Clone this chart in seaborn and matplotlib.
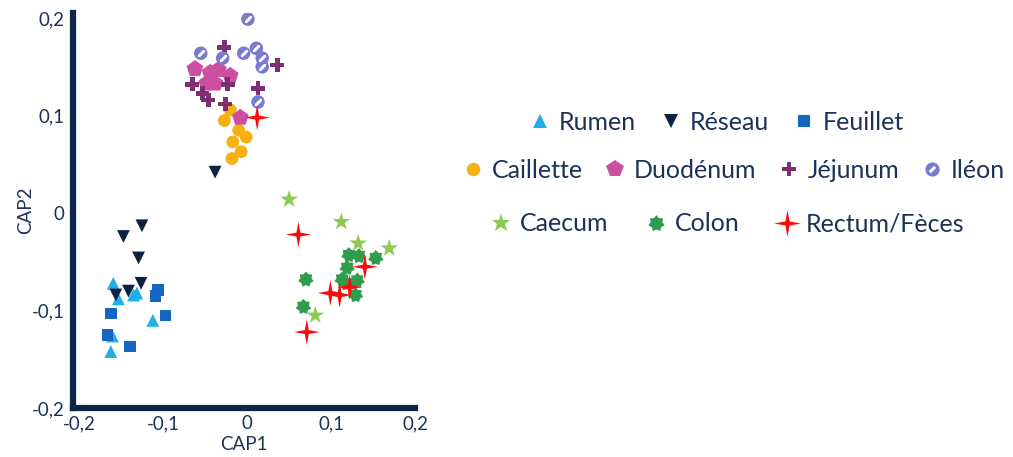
import numpy as np
import pandas as pd
import matplotlib
matplotlib.use("Agg")
import matplotlib.pyplot as plt
import seaborn as sns
from matplotlib.path import Path
from matplotlib.lines import Line2D
from matplotlib.ticker import FuncFormatter

# CAP scores, one pair of lists per tissue
rumen_x = [-0.159, -0.153, -0.135, -0.131, -0.112, -0.160, -0.162]
rumen_y = [-0.072, -0.088, -0.084, -0.082, -0.110, -0.126, -0.142]

reseau_x = [-0.125, -0.147, -0.129, -0.126, -0.156, -0.141, -0.038]
reseau_y = [-0.013, -0.024, -0.046, -0.072, -0.084, -0.080, 0.042]

feuillet_x = [-0.106, -0.109, -0.162, -0.097, -0.166, -0.139]
feuillet_y = [-0.079, -0.085, -0.103, -0.105, -0.125, -0.137]

caillette_x = [-0.020, -0.027, -0.010, -0.001, -0.017, -0.007, -0.018]
caillette_y = [0.106, 0.095, 0.085, 0.078, 0.073, 0.063, 0.056]

duodenum_x = [-0.062, -0.044, -0.034, -0.020, -0.048, -0.038, -0.008]
duodenum_y = [0.148, 0.144, 0.147, 0.141, 0.133, 0.133, 0.098]

jejunum_x = [-0.027, 0.036, -0.065, -0.053, -0.046, -0.023, 0.013, -0.026]
jejunum_y = [0.170, 0.152, 0.132, 0.123, 0.116, 0.132, 0.128, 0.112]

ileon_x = [0.001, -0.055, -0.029, -0.004, 0.011, 0.018, 0.018, 0.013]
ileon_y = [0.199, 0.164, 0.159, 0.164, 0.169, 0.159, 0.150, 0.114]

caecum_x = [0.050, 0.112, 0.132, 0.169, 0.081]
caecum_y = [0.014, -0.009, -0.031, -0.036, -0.105]

colon_x = [0.121, 0.133, 0.153, 0.119, 0.070, 0.113, 0.131, 0.129, 0.067, 0.118]
colon_y = [-0.043, -0.044, -0.046, -0.056, -0.068, -0.068, -0.069, -0.084, -0.096, -0.072]

rectum_x = [0.012, 0.061, 0.140, 0.122, 0.099, 0.110, 0.071]
rectum_y = [0.098, -0.022, -0.055, -0.076, -0.082, -0.084, -0.122]

tissues = ["Rumen", "Réseau", "Feuillet", "Caillette", "Duodénum",
           "Jéjunum", "Iléon", "Caecum", "Colon", "Rectum/Fèces"]
xs = [rumen_x, reseau_x, feuillet_x, caillette_x, duodenum_x,
      jejunum_x, ileon_x, caecum_x, colon_x, rectum_x]
ys = [rumen_y, reseau_y, feuillet_y, caillette_y, duodenum_y,
      jejunum_y, ileon_y, caecum_y, colon_y, rectum_y]

colors = {
    "Rumen": "#22aee6", "Réseau": "#0b2241", "Feuillet": "#1667c3",
    "Caillette": "#f6b112", "Duodénum": "#cc4fa0", "Jéjunum": "#7d2f73",
    "Iléon": "#7a7cd2", "Caecum": "#8cca52", "Colon": "#2f9c4e",
    "Rectum/Fèces": "#ff0a0a",
}
star4 = Path.unit_regular_star(4, 0.22)
star7 = Path.unit_regular_star(7, 0.72)
markers = {
    "Rumen": "^", "Réseau": "v", "Feuillet": "s", "Caillette": "o",
    "Duodénum": "p", "Jéjunum": "P", "Iléon": "o", "Caecum": "*",
    "Colon": star7, "Rectum/Fèces": star4,
}
sizes = {
    "Rumen": 85, "Réseau": 85, "Feuillet": 70, "Caillette": 85,
    "Duodénum": 160, "Jéjunum": 100, "Iléon": 95, "Caecum": 180,
    "Colon": 130, "Rectum/Fèces": 340,
}

df = pd.concat(
    [pd.DataFrame({"CAP1": x, "CAP2": y, "tissu": t}) for t, x, y in zip(tissues, xs, ys)],
    ignore_index=True,
)

navy = "#0d2548"
text_col = "#1c3358"

sns.set_style("white")
plt.rcParams["font.family"] = ["Lato", "DejaVu Sans"]

fig = plt.figure(figsize=(10.13, 4.57), dpi=100)
ax = fig.add_axes([0.072, 0.107, 0.338, 0.864])

sns.scatterplot(data=df, x="CAP1", y="CAP2", hue="tissu", style="tissu", size="tissu",
                palette=colors, markers=markers, sizes=sizes, linewidth=0,
                legend=False, ax=ax)

# white slash inside the Iléon circles
ile = df[df["tissu"] == "Iléon"]
ax.scatter(ile["CAP1"], ile["CAP2"], marker=(2, 2, -45), c="white", s=22, linewidths=1.8,
           zorder=3)

ax.set_xlim(-0.207, 0.2)
ax.set_ylim(-0.2, 0.205)
ax.set_xticks([-0.2, -0.1, 0, 0.1, 0.2])
ax.set_yticks([-0.2, -0.1, 0, 0.1, 0.2])
fmt = FuncFormatter(lambda v, p: "0" if abs(v) < 1e-9 else f"{v:.1f}".replace(".", ","))
ax.xaxis.set_major_formatter(fmt)
ax.yaxis.set_major_formatter(fmt)
ax.tick_params(length=0, labelsize=13.5, labelcolor=text_col)
ax.tick_params(axis="y", pad=6)
ax.tick_params(axis="x", pad=5)
for side in ["top", "right"]:
    ax.spines[side].set_visible(False)
for side in ["left", "bottom"]:
    ax.spines[side].set_color(navy)
    ax.spines[side].set_linewidth(4.5)
ax.set_xlabel("CAP1", fontsize=13.5, color=text_col, labelpad=3)
ax.set_ylabel("CAP2", fontsize=13.5, color=text_col, labelpad=-2)


def handle(t):
    h = Line2D([], [], linestyle="none", marker=markers[t], color=colors[t],
               markeredgewidth=0, markersize=np.sqrt(sizes[t]) * 1.05)
    if t == "Iléon":
        s = Line2D([], [], linestyle="none", marker=(2, 2, -45), color="white",
                   markeredgewidth=1.8, markersize=5)
        return (h, s)
    return h


# three legend rows, spacing per row as in the original layout
rows = [
    (tissues[0:3], (0.705, 0.733), 0.8),
    (tissues[3:7], (0.722, 0.628), 0.7),
    (tissues[7:10], (0.716, 0.510), 1.3),
]
for names, anchor, gap in rows:
    leg = fig.legend([handle(t) for t in names], names, loc="center", bbox_to_anchor=anchor,
                     ncol=len(names), frameon=False, fontsize=18, handletextpad=0.15,
                     columnspacing=gap, handlelength=1.2, borderpad=0)
    for txt in leg.get_texts():
        txt.set_color(text_col)

fig.savefig("out.png", dpi=100)
